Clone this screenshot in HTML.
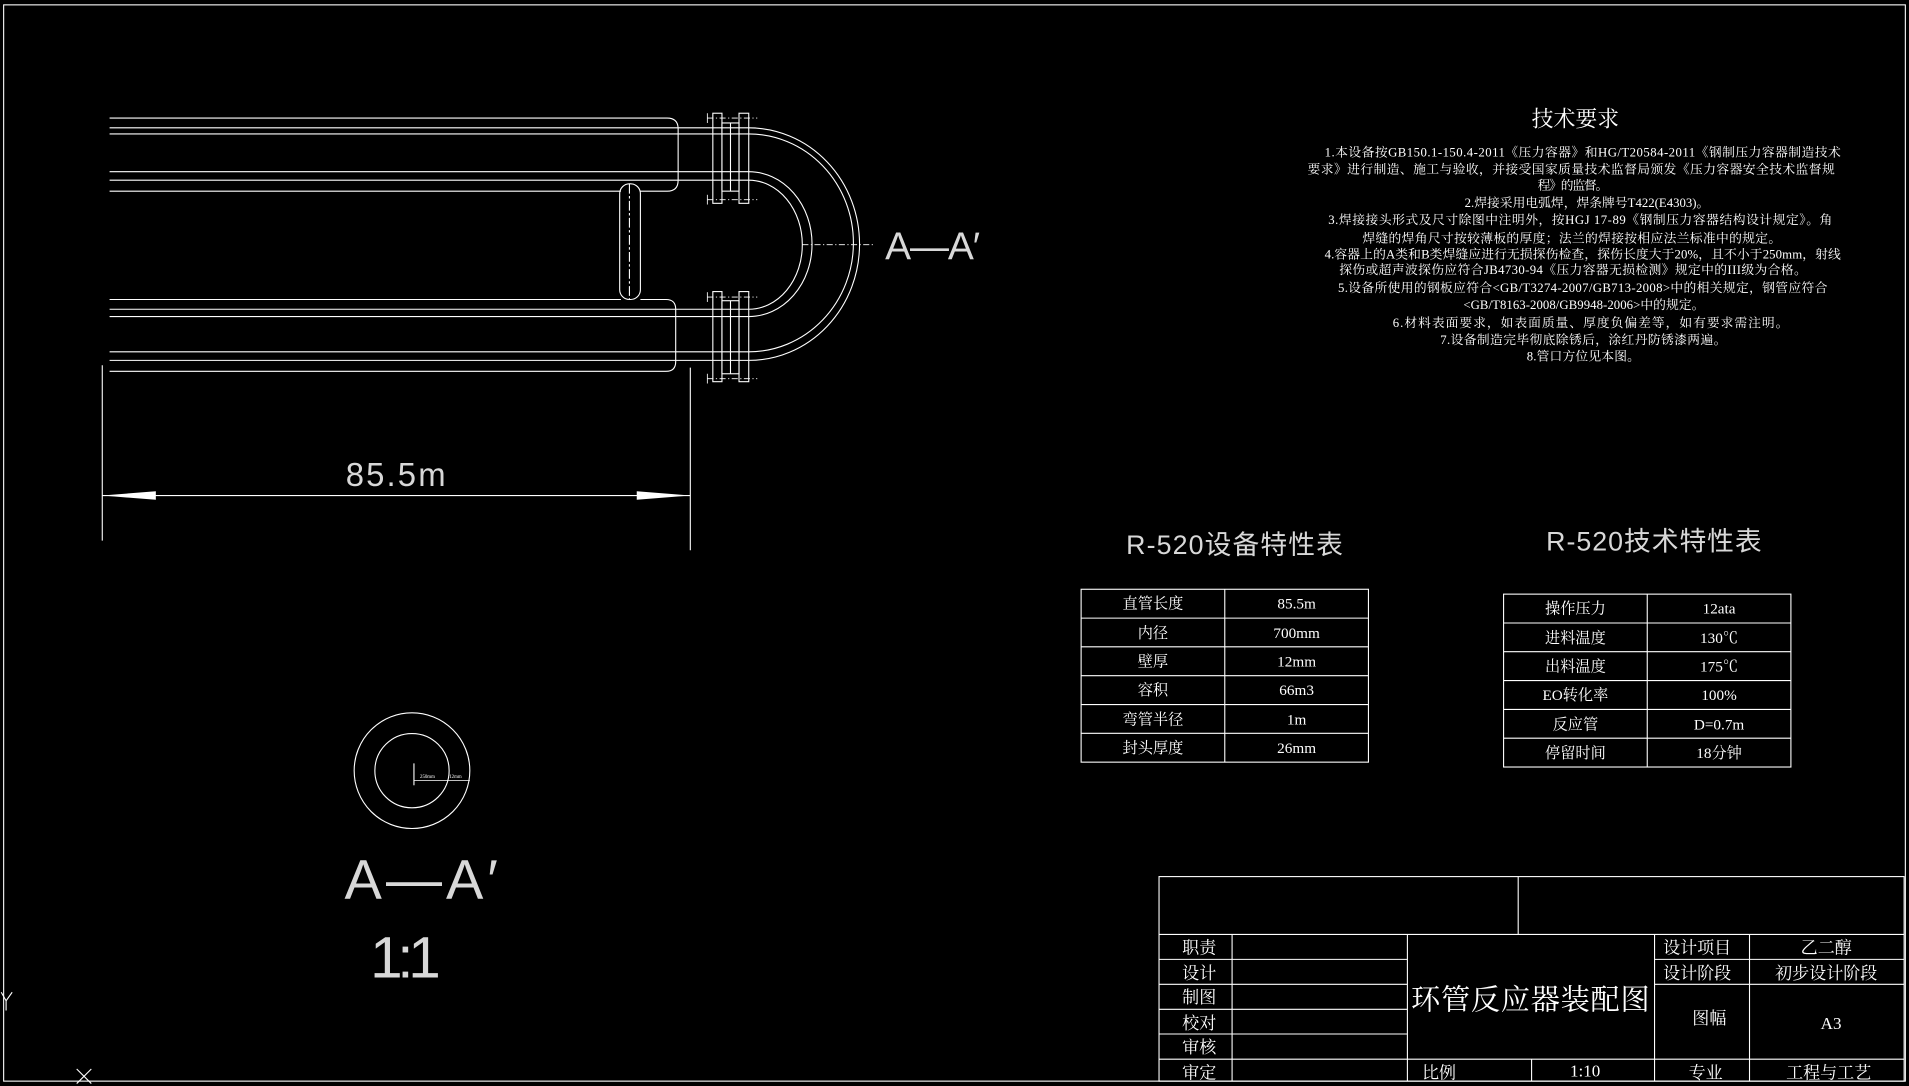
<!DOCTYPE html>
<html><head><meta charset="utf-8"><style>
html,body{margin:0;padding:0;background:#000;width:1909px;height:1086px;overflow:hidden}
svg{display:block}
text{fill:#fff;font-family:"Liberation Serif","Noto Serif CJK SC","Noto Sans CJK SC",serif}
.s{font-family:"Liberation Sans","Noto Sans CJK SC",sans-serif;fill:#d8d8d8}
</style></head><body>
<svg width="1909" height="1086" viewBox="0 0 1568 892" preserveAspectRatio="none" xmlns="http://www.w3.org/2000/svg">
<g fill="none" stroke="#fff" stroke-width="0.9">
<rect x="3" y="4" width="1562" height="884"/>
<path d="M90 97 H548 Q557 97 557 106 V148 Q557 157 548 157 H526"/>
<line x1="90" y1="157" x2="510" y2="157"/>
<rect x="509" y="151" width="17" height="95" rx="8"/>
<line x1="517" y1="151" x2="517" y2="246" stroke-dasharray="8 2 2 2"/>
<line x1="90" y1="246" x2="510" y2="246"/>
<path d="M526 246 H547 Q555 246 555 254 V297 Q555 305 547 305 H90"/>
<path d="M90 105 H615 A91 95.5 0 0 1 615 296 H90"/>
<path d="M90 110 H615 A86 89.5 0 0 1 615 289 H90"/>
<path d="M90 141 H615 A52 59.5 0 0 1 615 260 H90"/>
<path d="M90 148 H615 A44 53 0 0 1 615 254 H90"/>
<rect x="585.5" y="93" width="7.5" height="74"/>
<rect x="607" y="93" width="8" height="74"/>
<rect x="593" y="101" width="14" height="56"/>
<line x1="600" y1="101" x2="600" y2="157"/>
<rect x="585.5" y="239.5" width="7.5" height="74"/>
<rect x="607" y="239.5" width="8" height="74"/>
<rect x="593" y="247" width="14" height="60"/>
<line x1="600" y1="247" x2="600" y2="307"/>
<g stroke-dasharray="5 2 1 2" stroke-width="0.7">
<line x1="581" y1="97" x2="622" y2="97"/><line x1="581" y1="164" x2="622" y2="164"/>
<line x1="581" y1="244" x2="622" y2="244"/><line x1="581" y1="311" x2="622" y2="311"/>
<line x1="659" y1="201" x2="718" y2="201"/>
</g>
<g stroke-width="0.7">
<line x1="581" y1="93" x2="581" y2="101"/><line x1="581" y1="160" x2="581" y2="168"/>
<line x1="581" y1="240" x2="581" y2="248"/><line x1="581" y1="307" x2="581" y2="315"/>
</g>
<line x1="84" y1="300" x2="84" y2="444"/>
<line x1="567" y1="302" x2="567" y2="452"/>
<line x1="84" y1="407" x2="567" y2="407"/>
<circle cx="338.4" cy="633" r="47.5"/>
<circle cx="338.4" cy="633" r="30.5"/>
<line x1="340" y1="627" x2="340" y2="645"/>
<line x1="340" y1="641" x2="386" y2="641" stroke-width="0.6"/>
<rect x="888" y="484" width="236" height="142"/>
<line x1="1006" y1="484" x2="1006" y2="626"/>
<line x1="888" y1="507.7" x2="1124" y2="507.7"/><line x1="888" y1="531.3" x2="1124" y2="531.3"/>
<line x1="888" y1="555" x2="1124" y2="555"/><line x1="888" y1="578.7" x2="1124" y2="578.7"/>
<line x1="888" y1="602.3" x2="1124" y2="602.3"/>
<rect x="1235" y="488" width="236" height="142"/>
<line x1="1353" y1="488" x2="1353" y2="630"/>
<line x1="1235" y1="511.7" x2="1471" y2="511.7"/><line x1="1235" y1="535.3" x2="1471" y2="535.3"/>
<line x1="1235" y1="559" x2="1471" y2="559"/><line x1="1235" y1="582.7" x2="1471" y2="582.7"/>
<line x1="1235" y1="606.3" x2="1471" y2="606.3"/>
<rect x="952" y="720" width="612" height="168"/>
<line x1="952" y1="767.5" x2="1564" y2="767.5"/>
<line x1="1247" y1="720" x2="1247" y2="767.5"/>
<line x1="1012" y1="767.5" x2="1012" y2="888"/>
<line x1="1156" y1="767.5" x2="1156" y2="888"/>
<line x1="1359" y1="767.5" x2="1359" y2="888"/>
<line x1="1437" y1="767.5" x2="1437" y2="888"/>
<line x1="1258" y1="870" x2="1258" y2="888"/>
<line x1="952" y1="788" x2="1156" y2="788"/><line x1="952" y1="808.5" x2="1156" y2="808.5"/>
<line x1="952" y1="829" x2="1156" y2="829"/><line x1="952" y1="849.3" x2="1156" y2="849.3"/>
<line x1="952" y1="870" x2="1564" y2="870"/>
<line x1="1359" y1="788" x2="1564" y2="788"/><line x1="1359" y1="808.5" x2="1564" y2="808.5"/>
<line x1="63" y1="878" x2="75" y2="890"/><line x1="75" y1="878" x2="63" y2="890"/>
<line x1="1" y1="815" x2="5" y2="822"/><line x1="10" y1="815" x2="5" y2="822"/><line x1="5" y1="822" x2="5" y2="830"/>
</g>
<polygon points="84,407 128,403.5 128,410.5" fill="#fff"/>
<polygon points="567,407 523,403.5 523,410.5" fill="#fff"/>
<text class="s" x="284" y="399" font-size="27" textLength="82" lengthAdjust="spacing">85.5m</text>
<text class="s" x="727" y="213" font-size="32" textLength="78" lengthAdjust="spacing">A—A′</text>
<text class="s" x="283" y="738" font-size="46" textLength="126" lengthAdjust="spacing">A—A′</text>
<text class="s" x="304" y="803" font-size="48" textLength="58" lengthAdjust="spacing">1:1</text>
<text x="345" y="639" font-size="4">250mm</text><text x="369" y="639" font-size="4">12mm</text>
<text x="1294" y="104" font-size="18" text-anchor="middle">技术要求</text>
<g font-size="10.5" fill="#e0e0e0">
<text x="1088" y="128.5" textLength="424">1.本设备按GB150.1-150.4-2011《压力容器》和HG/T20584-2011《钢制压力容器制造技术</text>
<text x="1074" y="142.5" textLength="433">要求》进行制造、施工与验收，并接受国家质量技术监督局颁发《压力容器安全技术监督规</text>
<text x="1263" y="155.5" textLength="58">程》的监督。</text>
<text x="1203" y="170" textLength="201">2.焊接采用电弧焊，焊条牌号T422(E4303)。</text>
<text x="1091" y="184" textLength="414">3.焊接接头形式及尺寸除图中注明外，按HGJ 17-89《钢制压力容器结构设计规定》。角</text>
<text x="1119" y="199" textLength="344">焊缝的焊角尺寸按较薄板的厚度；法兰的焊接按相应法兰标准中的规定。</text>
<text x="1088" y="212.5" textLength="424">4.容器上的A类和B类焊缝应进行无损探伤检查，探伤长度大于20%，且不小于250mm，射线</text>
<text x="1100" y="225" textLength="384">探伤或超声波探伤应符合JB4730-94《压力容器无损检测》规定中的III级为合格。</text>
<text x="1099" y="240" textLength="402">5.设备所使用的钢板应符合&lt;GB/T3274-2007/GB713-2008&gt;中的相关规定，钢管应符合</text>
<text x="1202" y="254" textLength="198">&lt;GB/T8163-2008/GB9948-2006&gt;中的规定。</text>
<text x="1144" y="268.5" textLength="325">6.材料表面要求，如表面质量、厚度负偏差等，如有要求需注明。</text>
<text x="1183" y="282.5" textLength="235">7.设备制造完毕彻底除锈后，涂红丹防锈漆两遍。</text>
<text x="1254" y="296" textLength="93">8.管口方位见本图。</text>
</g>
<text class="s" x="925" y="455" font-size="22" textLength="178">R-520设备特性表</text>
<text class="s" x="1270" y="452" font-size="22" textLength="177">R-520技术特性表</text>
<g font-size="12.5" text-anchor="middle">
<text x="947" y="500">直管长度</text><text x="1065" y="500">85.5m</text>
<text x="947" y="524">内径</text><text x="1065" y="524">700mm</text>
<text x="947" y="547.5">壁厚</text><text x="1065" y="547.5">12mm</text>
<text x="947" y="571">容积</text><text x="1065" y="571">66m3</text>
<text x="947" y="595">弯管半径</text><text x="1065" y="595">1m</text>
<text x="947" y="618.5">封头厚度</text><text x="1065" y="618.5">26mm</text>
<text x="1294" y="504">操作压力</text><text x="1412" y="504">12ata</text>
<text x="1294" y="528">进料温度</text><text x="1412" y="528">130℃</text>
<text x="1294" y="551.5">出料温度</text><text x="1412" y="551.5">175℃</text>
<text x="1294" y="575">EO转化率</text><text x="1412" y="575">100%</text>
<text x="1294" y="599">反应管</text><text x="1412" y="599">D=0.7m</text>
<text x="1294" y="622.5">停留时间</text><text x="1412" y="622.5">18分钟</text>
</g>
<g font-size="14">
<text x="971" y="783">职责</text><text x="971" y="804">设计</text><text x="971" y="824">制图</text>
<text x="971" y="845">校对</text><text x="971" y="865">审核</text><text x="971" y="886">审定</text>
<text x="1366" y="783">设计项目</text><text x="1366" y="804">设计阶段</text>
<text x="1390" y="841">图幅</text>
<text x="1168" y="886">比例</text><text x="1387" y="886">专业</text>
</g>
<g font-size="14" text-anchor="middle">
<text x="1500" y="783">乙二醇</text><text x="1500" y="804">初步设计阶段</text>
<text x="1504" y="845">A3</text><text x="1302" y="884">1:10</text><text x="1502" y="886">工程与工艺</text>
</g>
<text x="1257" y="829" font-size="24" text-anchor="middle" textLength="196">环管反应器装配图</text>
</svg>
</body></html>
